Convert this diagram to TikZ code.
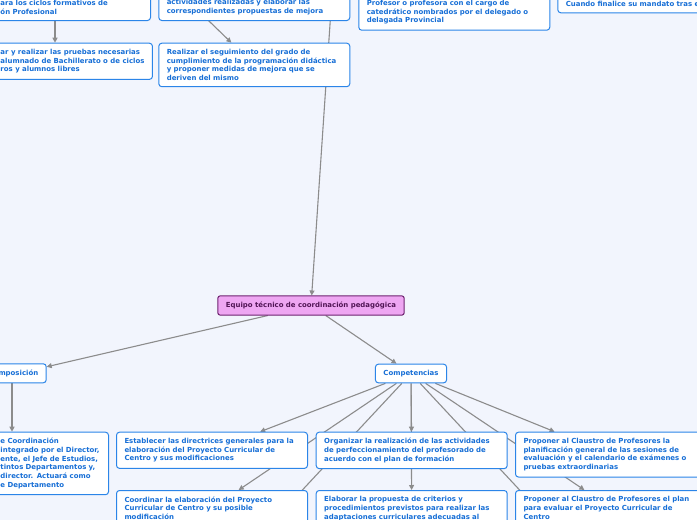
\documentclass[tikz,border=0pt]{standalone}
\usepackage{fontspec}
\usetikzlibrary{arrows.meta}
\newfontfamily\mapfont{DejaVu Sans}
\definecolor{paper}{RGB}{242,245,253}
\definecolor{topicline}{RGB}{43,133,232}
\definecolor{topictext}{RGB}{22,110,214}
\definecolor{rootfill}{RGB}{238,166,242}
\definecolor{rootline}{RGB}{110,35,112}
\definecolor{roottext}{RGB}{80,20,84}
\definecolor{linkgray}{RGB}{140,140,140}
\pgfdeclarelayer{bg}
\pgfsetlayers{bg,main}

\begin{document}
\begin{tikzpicture}[x=1pt, y=-1pt,
  lbl/.style={draw=topicline, fill=white, line width=1pt, rounded corners=3pt,
    text=topictext, font=\mapfont\bfseries\fontsize{6.95}{8.7}\selectfont,
    align=left, inner xsep=8pt, inner ysep=6pt},
  tp/.style={lbl, text width=175pt},
  rt/.style={lbl, draw=rootline, fill=rootfill, text=roottext, rounded corners=2pt},
  link/.style={draw=linkgray, line width=1.1pt, -{Triangle[length=5pt,width=5pt]}}
]
\useasboundingbox (0,0) rectangle (697,520);
\clip (0,0) rectangle (697,520);

% upper branch
\node[tp, anchor=south west, text width=142pt] (a) at (-8,21) {ara los ciclos formativos de\\ón Profesional};
\node[lbl, anchor=north west] (b) at (-8,42.7) {ar y realizar las pruebas necesarias\\alumnado de Bachillerato o de ciclos\\ros y alumnos libres};
\node[tp, anchor=south west] (c) at (158.3,21) {actividades realizadas y elaborar las\\correspondientes propuestas de mejora};
\node[tp, anchor=north west] (d) at (158.3,42.7) {Realizar el seguimiento del grado de\\cumplimiento de la programación didáctica\\y proponer medidas de mejora que se\\deriven del mismo};
\node[tp, anchor=south west] (e) at (358.3,30.7) {Profesor o profesora con el cargo de\\catedrático nombrados por el delegado o\\delagada Provincial};
\node[tp, anchor=south west] (f) at (557.3,13.3) {Cuando finalice su mandato tras e};

\node[rt] (root) at (311,305.5) {Equipo técnico de coordinación pedagógica};

% composicion
\node[lbl, anchor=west] (compo) at (-10,373.3) {mposición};
\node[tp, anchor=north west, text width=100pt] (g) at (-8,431.7) {e Coordinación\\integrado por el Director,\\ente, el Jefe de Estudios,\\tintos Departamentos y,\\director. Actuará como\\e Departamento};

% competencias
\node[lbl] (comp) at (411,373.5) {Competencias};
\node[tp, anchor=north west] (h) at (116,431.7) {Establecer las directrices generales para la\\elaboración del Proyecto Curricular de\\Centro y sus modificaciones};
\node[tp, anchor=north west] (i) at (315.7,431.7) {Organizar la realización de las actividades\\de perfeccionamiento del profesorado de\\acuerdo con el plan de formación};
\node[tp, anchor=north west] (j) at (515,431.7) {Proponer al Claustro de Profesores la\\planificación general de las sesiones de\\evaluación y el calendario de exámenes o\\pruebas extraordinarias};
\node[tp, anchor=north west] (k) at (116,490) {Coordinar la elaboración del Proyecto\\Curricular de Centro y su posible\\modificación};
\node[tp, anchor=north west] (l) at (315.7,490) {Elaborar la propuesta de criterios y\\procedimientos previstos para realizar las\\adaptaciones curriculares adecuadas al};
\node[tp, anchor=north west] (m) at (515,490) {Proponer al Claustro de Profesores el plan\\para evaluar el Proyecto Curricular de\\Centro};

\coordinate (top) at (333,-20);
\coordinate (dsrc) at (84,-100);
\coordinate (ab) at (55,0);
\coordinate (cg) at (12,0);
\coordinate (x3) at (211,588);
\coordinate (x5) at (611,588);

\begin{pgfonlayer}{bg}
\clip (0,0) rectangle (697,520);
\fill[paper] (0,0) rectangle (697,520);
\draw[link] (top) -- (root);
\draw[link] (dsrc) -- (d);
\draw[link] (a.south -| ab) -- (b.north -| ab);
\draw[link] (root) -- (compo);
\draw[link] (root) -- (comp);
\draw[link] (compo.south -| cg) -- (g.north -| cg);
\foreach \t in {h,i,j,k,l,m,x3,x5}
  \draw[link] (comp) -- (\t);
\end{pgfonlayer}
\end{tikzpicture}
\end{document}
